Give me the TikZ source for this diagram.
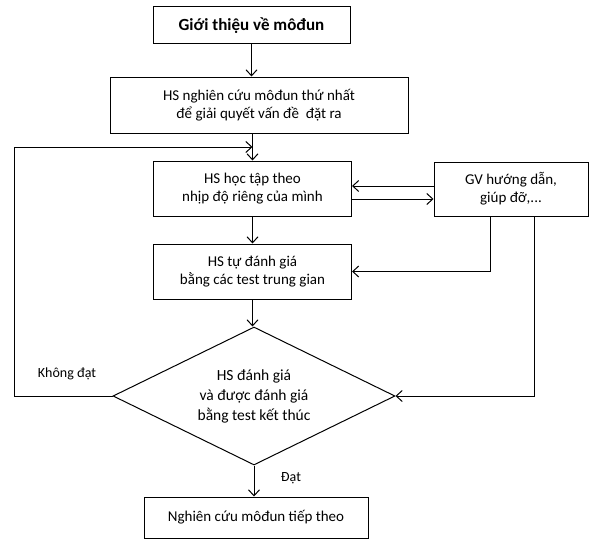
\documentclass[tikz,border=0pt]{standalone}
\usepackage{fontspec}
\setmainfont{Carlito}
\usetikzlibrary{shapes.geometric,arrows.meta}
\tikzset{
  box/.style={draw, line width=1pt, align=center, inner sep=0pt, font=\fontsize{15}{18}\selectfont},
  arr/.style={line width=1pt, -{Straight Barb[length=6pt,width=11pt,line width=1pt]}},
  lbl/.style={font=\fontsize{14}{16}\selectfont}
}
\begin{document}
\begin{tikzpicture}[x=1pt,y=-1pt]
\useasboundingbox (0,0) rectangle (591,543);
\node[box, minimum width=197pt, minimum height=37pt, font=\fontsize{17}{18}\selectfont\bfseries] (b1) at (251.5,25.5) {Giới thiệu về môđun};
\node[box, minimum width=298pt, minimum height=56pt] (b2) at (259,105) {HS nghiên cứu môđun thứ nhất\\để giải quyết vấn đề\ \ đặt ra};
\node[box, minimum width=198pt, minimum height=55pt] (b3) at (252.5,188.5) {HS học tập theo\\nhịp độ riêng của mình};
\node[box, minimum width=154pt, minimum height=54pt] (gv) at (511,189) {GV hướng dẫn,\\giúp đỡ,...};
\node[box, minimum width=198pt, minimum height=55pt] (b4) at (252.5,271.5) {HS tự đánh giá\\bằng các test trung gian};
\node[box, diamond, minimum width=282pt, minimum height=138pt, aspect=2, font=\fontsize{15.5}{20}\selectfont] (dia) at (254,396) {HS đánh giá\\và được đánh giá\\bằng test kết thúc};
\node[box, minimum width=224pt, minimum height=41pt] (fin) at (256,517.5) {Nghiên cứu môđun tiếp theo};
\coordinate (fbc) at (14,147);
% connectors
\draw[arr] (b1.south) -- (b1.south |- b2.north);
\draw[arr] (b3.north |- b2.south) -- (b3.north);
\draw[arr] (dia.west) -| (fbc) -- (b3.north |- fbc);
\draw[arr] (gv.west |- 0,186) -- (b3.east |- 0,186);
\draw[arr] (b3.east |- 0,199) -- (gv.west |- 0,199);
\draw[arr] (b3.south) -- (b4.north);
\draw[arr] ([xshift=-21pt]gv.south) |- (b4.east);
\draw[arr] ([xshift=23pt]gv.south) |- (dia.east);
\draw[arr] (b4.south) -- (b4.south |- dia.north);
\draw[arr] (dia.south) -- (dia.south |- fin.north);
% labels
\node[lbl] (kd) at (67,374) {Không đạt};
\node[lbl] (dat) at (291,478) {Đạt};
\end{tikzpicture}
\end{document}
